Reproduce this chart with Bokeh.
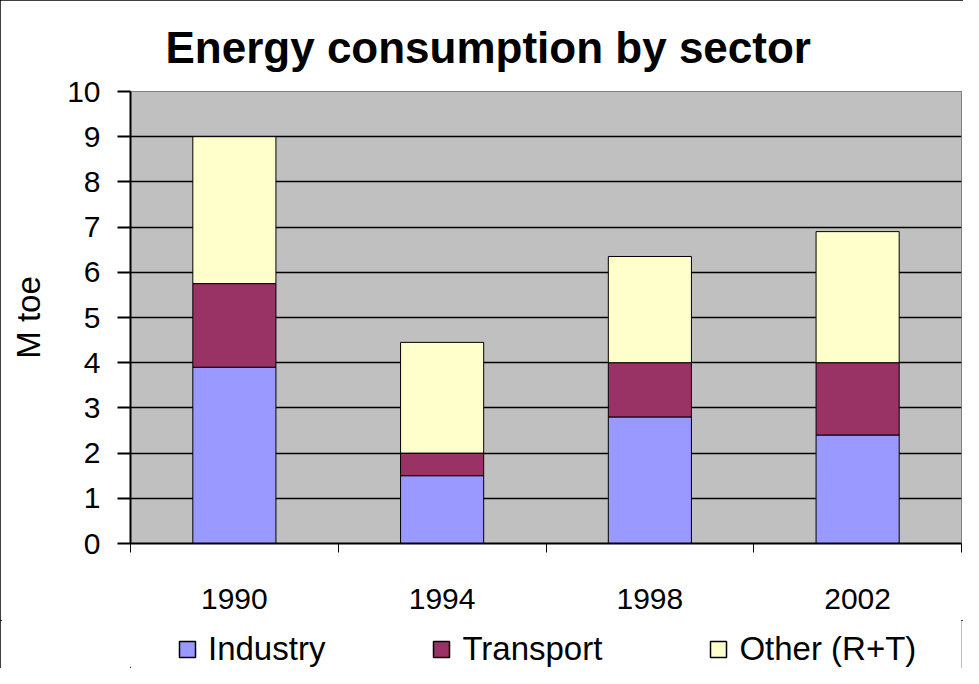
from bokeh.plotting import figure
from bokeh.layouts import column
from bokeh.models import ColumnDataSource, Legend, LegendItem, FixedTicker, Range1d
from bokeh.embed import file_html
from bokeh.resources import INLINE

# ---- data ----
years = ["1990", "1994", "1998", "2002"]
industry = [3.9, 1.5, 2.8, 2.4]
transport = [1.85, 0.5, 1.2, 1.6]
other = [3.25, 2.45, 2.35, 2.9]
series = ["Industry", "Transport", "Other (R+T)"]
colors = ["#9999FF", "#993366", "#FFFFCC"]
y_ticks = [0, 1, 2, 3, 4, 5, 6, 7, 8, 9, 10]
title_text = "Energy consumption by sector"
y_label = "M toe"

FONT = "Liberation Sans"
W = 963
H_MAIN = 620
H_LEG = 48

x_centers = [i + 0.5 for i in range(len(years))]
x_bounds = list(range(len(years) + 1))
stack_cols = ["Industry", "Transport", "Other"]

source = ColumnDataSource(dict(x=x_centers, Industry=industry, Transport=transport, Other=other))

p = figure(width=W, height=H_MAIN, output_backend="svg", toolbar_location=None,
           x_range=Range1d(0, len(years)), y_range=Range1d(y_ticks[0], y_ticks[-1]),
           min_border_left=130, min_border_right=2, min_border_top=91, min_border_bottom=77,
           background_fill_color="#C0C0C0", border_fill_color="white")

p.outline_line_color = "#808080"
p.outline_line_width = 1

renderers = p.vbar_stack(stack_cols, x="x", width=0.4, source=source,
                         fill_color=colors, line_color="black", line_width=1)

# title
p.title.text = title_text
p.title.text_font = FONT
p.title.text_font_size = "44px"
p.title.text_font_style = "bold"
p.title.text_color = "black"
p.title.align = "left"
p.title.offset = 35
p.title.standoff = 40

# x axis
xa = p.xaxis[0]
xa.ticker = FixedTicker(ticks=x_centers, minor_ticks=x_bounds)
xa.major_label_overrides = {xc: yr for xc, yr in zip(x_centers, years)}
xa.major_tick_line_color = None
xa.major_tick_out = 0
xa.major_tick_in = 0
xa.minor_tick_line_color = "black"
xa.minor_tick_line_width = 1
xa.minor_tick_out = 9
xa.minor_tick_in = 0
xa.axis_line_color = "black"
xa.axis_line_width = 2
xa.major_label_text_font = FONT
xa.major_label_text_font_size = "30px"
xa.major_label_text_color = "black"
xa.major_label_standoff = 36

# y axis
ya = p.yaxis[0]
ya.ticker = FixedTicker(ticks=y_ticks)
ya.major_tick_out = 13
ya.major_tick_in = 0
ya.major_tick_line_color = "black"
ya.major_tick_line_width = 2
ya.minor_tick_line_color = None
ya.axis_line_color = "black"
ya.axis_line_width = 2
ya.major_label_text_font = FONT
ya.major_label_text_font_size = "30px"
ya.major_label_text_color = "black"
ya.major_label_standoff = 17
ya.axis_label = y_label
ya.axis_label_text_font = FONT
ya.axis_label_text_font_size = "33px"
ya.axis_label_text_font_style = "normal"
ya.axis_label_text_color = "black"
ya.axis_label_standoff = 17

p.xgrid.visible = False
p.ygrid.ticker = FixedTicker(ticks=y_ticks)
p.ygrid.grid_line_color = "black"
p.ygrid.grid_line_width = 1.5

# legend strip (separate figure so that the legend is not clipped by the plot frame);
# its bars use the same source but lie far outside its visible ranges
lf = figure(width=W, height=H_LEG, output_backend="svg", toolbar_location=None,
            x_range=Range1d(1000, 1001), y_range=Range1d(1000, 1001),
            x_axis_location=None, y_axis_location=None,
            min_border_left=0, min_border_right=0, min_border_top=0, min_border_bottom=0,
            border_fill_color="white", background_fill_color="white")
lf.outline_line_color = None
lf.xgrid.visible = False
lf.ygrid.visible = False
leg_renderers = lf.vbar_stack(stack_cols, x="x", width=0.4, source=source,
                              fill_color=colors, line_color="black", line_width=1.5)

legend = Legend(items=[LegendItem(label=s, renderers=[r]) for s, r in zip(series, leg_renderers)],
                orientation="horizontal", location=(47, 0),
                border_line_color=None, background_fill_alpha=0,
                label_text_font=FONT, label_text_font_size="33px", label_text_color="black",
                glyph_width=20, glyph_height=20, spacing=106, label_standoff=11,
                padding=0, margin=0)
lf.add_layout(legend)

layout = column(p, lf, spacing=0)
layout.styles = {"outline": "2px solid black", "outline-offset": "-2px"}

open("out.html", "w").write(file_html(layout, INLINE))
